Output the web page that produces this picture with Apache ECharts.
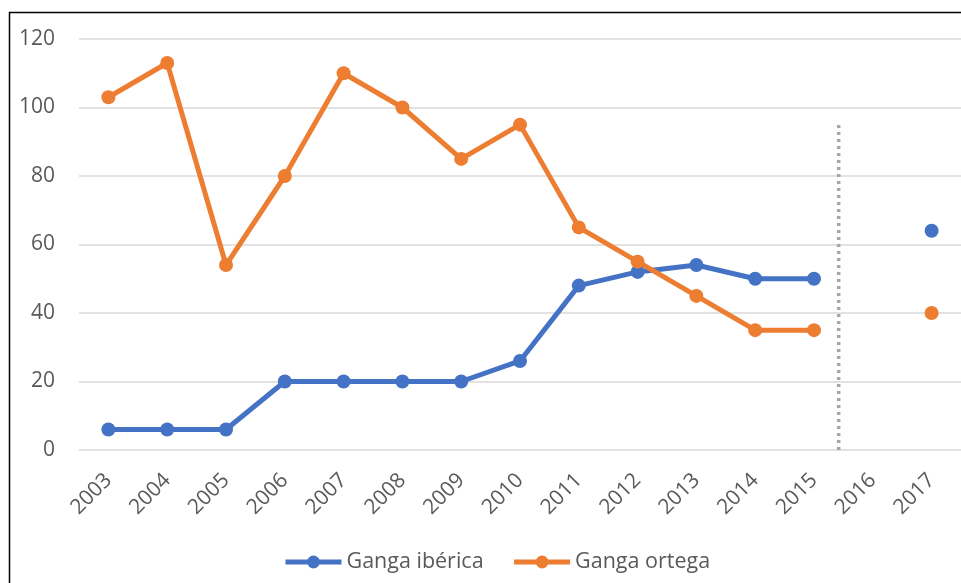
<!DOCTYPE html>
<html><head><meta charset="utf-8">
<script src="https://cdn.jsdelivr.net/npm/echarts@6/dist/echarts.min.js"></script>
<style>html,body{margin:0;padding:0;background:#fff}#c{width:961px;height:583px}</style>
</head><body><div id="c"></div>
<script>
const years = ['2003','2004','2005','2006','2007','2008','2009','2010','2011','2012','2013','2014','2015','2016','2017'];
const gangaIberica = [6,6,6,20,20,20,20,26,48,52,54,50,50,null,64];
const gangaOrtega = [103,113,54,80,110,100,85,95,65,55,45,35,35,null,40];
const dividerX = 12.42;
const dividerTop = 95;

const chart = echarts.init(document.getElementById('c'), null, {renderer:'canvas'});
const font = '"Open Sans", sans-serif';
chart.setOption({
  animation:false,
  graphic:[{type:'rect',shape:{x:9.5,y:12.5,width:1000,height:1000},style:{fill:'none',stroke:'#000',lineWidth:1.5},silent:true}],
  grid:{left:79,right:0,top:39,bottom:133},
  legend:{bottom:5,left:278,itemWidth:56,itemHeight:16,itemGap:28,
    lineStyle:{width:5},
    textStyle:{fontFamily:font,fontSize:21.5,color:'#595959'},
    data:['Ganga ibérica','Ganga ortega']},
  xAxis:[{type:'category',data:years,boundaryGap:true,
    axisLine:{show:false},axisTick:{show:false},
    axisLabel:{rotate:45,margin:27,fontFamily:font,fontSize:21,color:'#595959'}},
    {type:'value',min:-0.5,max:14.5,show:false}],
  yAxis:{type:'value',min:0,max:120,interval:20,
    axisLine:{show:false},axisTick:{show:false},
    splitLine:{lineStyle:{color:'#d9d9d9',width:1.5}},
    axisLabel:{margin:24,fontFamily:font,fontSize:21,color:'#595959'}},
  series:[
    {name:'Ganga ibérica',type:'line',data:gangaIberica,connectNulls:false,
     symbol:'circle',symbolSize:14,lineStyle:{width:5,color:'#4472C4'},itemStyle:{color:'#4472C4'}},
    {name:'Ganga ortega',type:'line',data:gangaOrtega,connectNulls:false,
     symbol:'circle',symbolSize:14,lineStyle:{width:5,color:'#ED7D31'},itemStyle:{color:'#ED7D31'}},
    {name:'divider',type:'line',xAxisIndex:1,data:[[dividerX,0],[dividerX,dividerTop]],symbol:'none',
     lineStyle:{width:3.5,color:'#a6a6a6',type:[3,4]},z:1}
  ]
});
</script></body></html>
